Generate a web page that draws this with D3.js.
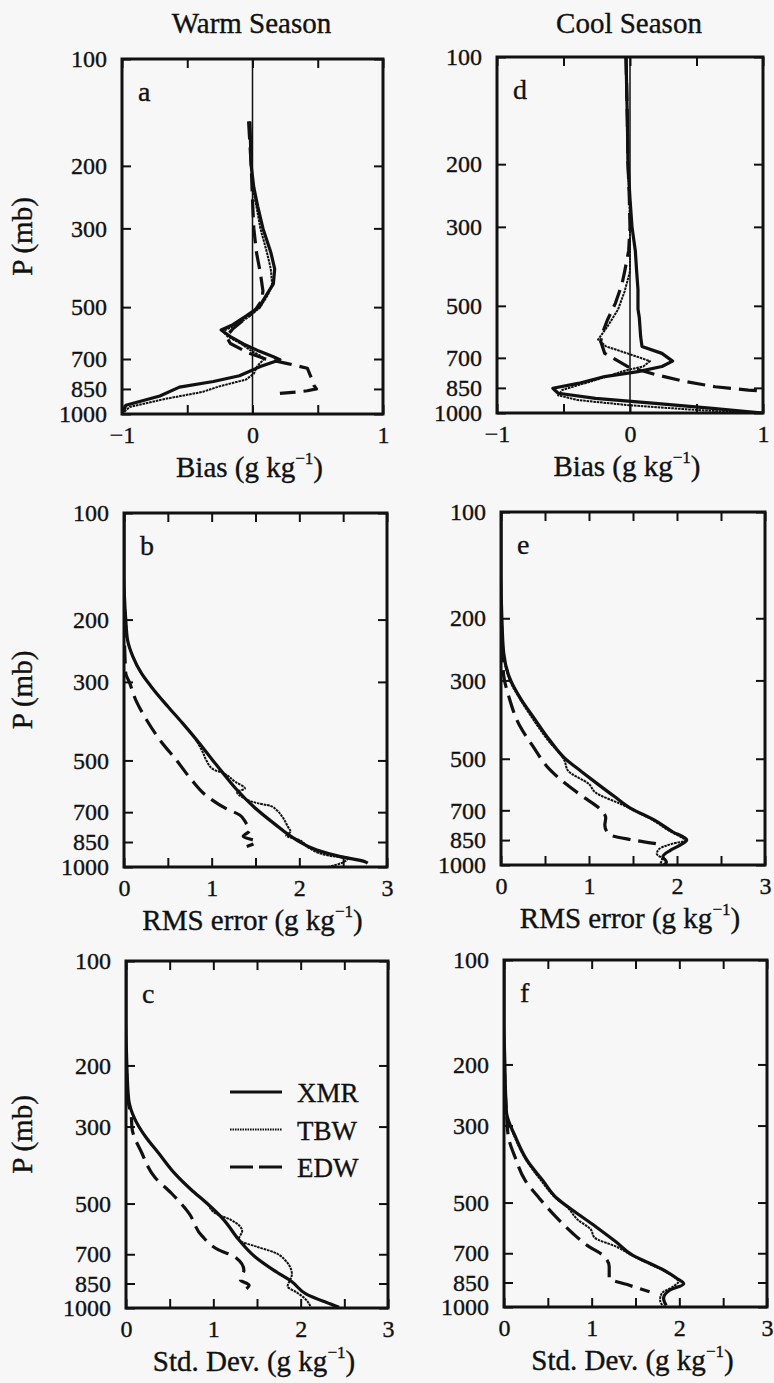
<!DOCTYPE html>
<html>
<head>
<meta charset="utf-8">
<script src="https://cdn.jsdelivr.net/npm/d3@7"></script>
<style>
  html, body { margin: 0; padding: 0; background: #f7f7f7; }
  svg { display: block; }
</style>
</head>
<body>
<svg id="chart" width="774" height="1383"></svg>
<script>
// ---- axis values ----
const pressureTicks = [100, 200, 300, 500, 700, 850, 1000];   // mb, log scale
const biasTicks = [-1, 0, 1];
const errorTicks = [0, 1, 2, 3];
const seasons = ["Warm Season", "Cool Season"];
const panelLetters = ["a", "b", "c", "d", "e", "f"];
const rowLabels = ["Bias", "RMS error", "Std. Dev."];
const seriesNames = ["XMR", "TBW", "EDW"];

// ---- profiles: [pressure (mb), value (g kg-1)] ----
// (a) warm season bias
const warmBiasXMR = [[150,-0.02],[200,-0.01],[230,0.01],[260,0.04],[300,0.08],[350,0.14],[390,0.17],[430,0.16],[460,0.11],[500,0.05],[530,-0.05],[560,-0.15],[580,-0.24],[605,-0.17],[635,-0.07],[665,0.05],[690,0.16],[703,0.21],[735,0.06],[780,-0.10],[810,-0.30],[840,-0.56],[890,-0.71],[945,-0.97],[1000,-1.0]];
const warmBiasTBW = [[150,-0.02],[200,-0.01],[230,0.0],[260,0.03],[300,0.06],[350,0.11],[390,0.14],[430,0.15],[460,0.12],[500,0.06],[530,-0.02],[560,-0.12],[585,-0.23],[605,-0.19],[630,-0.10],[660,-0.02],[685,0.06],[700,0.09],[730,0.04],[770,0.01],[800,-0.05],[835,-0.25],[866,-0.38],[910,-0.69],[955,-0.94],[1000,-1.0]];
const warmBiasEDW = [[150,-0.03],[200,-0.01],[250,0.0],[300,0.01],[350,0.03],[400,0.06],[450,0.08],[480,0.07],[510,0.02],[540,-0.06],[575,-0.15],[605,-0.2],[633,-0.17],[673,-0.03],[700,0.1],[720,0.26],[743,0.42],[790,0.45],[830,0.47],[850,0.49],[860,0.42],[866,0.36],[875,0.21]];
// (d) cool season bias
const coolBiasXMR = [[100,-0.03],[150,-0.02],[200,-0.015],[250,0.0],[300,0.015],[350,0.04],[400,0.05],[450,0.06],[510,0.06],[540,0.07],[610,0.08],[650,0.09],[680,0.24],[715,0.32],[740,0.24],[765,0.06],[790,-0.19],[826,-0.39],[852,-0.58],[880,-0.54],[910,-0.26],[940,0.19],[970,0.62],[1000,1.0]];
const coolBiasTBW = [[100,-0.03],[150,-0.02],[200,-0.015],[250,-0.005],[300,0.0],[350,0.0],[400,0.0],[455,-0.04],[512,-0.09],[572,-0.17],[622,-0.24],[650,-0.18],[680,-0.02],[715,0.15],[740,0.1],[757,-0.02],[808,-0.26],[862,-0.51],[892,-0.54],[920,-0.39],[950,-0.02],[980,0.49],[1000,0.9]];
const coolBiasEDW = [[100,-0.03],[150,-0.02],[200,-0.015],[250,-0.005],[300,0.0],[350,-0.01],[400,-0.04],[434,-0.06],[492,-0.11],[548,-0.17],[600,-0.21],[630,-0.22],[680,-0.19],[740,-0.02],[780,0.19],[815,0.41],[844,0.64],[862,0.89],[868,1.0]];
// (b) warm season RMS error
const warmRmsXMR = [[100,0.0],[150,0.0],[200,0.02],[228,0.04],[254,0.1],[284,0.2],[316,0.34],[352,0.5],[393,0.67],[438,0.83],[488,0.98],[543,1.13],[606,1.29],[676,1.48],[753,1.71],[839,1.97],[896,2.2],[935,2.47],[966,2.75],[975,2.78]];
const warmRmsTBW = [[100,0.0],[150,0.0],[200,0.02],[228,0.04],[254,0.1],[284,0.2],[316,0.34],[352,0.5],[393,0.67],[438,0.82],[475,0.9],[500,0.94],[530,1.02],[543,1.13],[575,1.27],[600,1.38],[615,1.29],[635,1.35],[660,1.52],[672,1.67],[690,1.74],[718,1.8],[770,1.87],[795,1.9],[815,1.85],[839,2.0],[880,2.1],[925,2.3],[950,2.55],[970,2.5],[1000,2.33]];
const warmRmsEDW = [[200,0.0],[250,0.01],[284,0.02],[300,0.06],[340,0.14],[385,0.26],[438,0.41],[500,0.6],[567,0.77],[632,0.95],[685,1.17],[713,1.32],[750,1.39],[790,1.43],[820,1.36],[848,1.51],[875,1.4]];
// (e) cool season RMS error
const coolRmsXMR = [[100,0.0],[150,0.0],[200,0.01],[250,0.03],[300,0.11],[340,0.23],[385,0.38],[442,0.55],[500,0.73],[545,0.92],[590,1.1],[640,1.29],[692,1.48],[745,1.74],[805,1.95],[849,2.11],[880,2.03],[910,1.92],[947,1.84],[980,1.88],[1000,1.85]];
const coolRmsTBW = [[100,0.0],[150,0.0],[200,0.01],[250,0.03],[300,0.1],[340,0.22],[385,0.36],[442,0.53],[505,0.72],[540,0.76],[590,1.0],[625,1.08],[670,1.35],[692,1.47],[745,1.72],[805,1.93],[835,2.05],[852,2.1],[870,1.95],[900,1.8],[930,1.77],[960,1.83],[1000,1.8]];
const coolRmsEDW = [[200,0.0],[260,0.02],[290,0.03],[334,0.09],[402,0.21],[460,0.36],[535,0.55],[590,0.74],[640,0.93],[692,1.12],[735,1.19],[772,1.18],[820,1.23],[849,1.5],[870,1.76]];
// (c) warm season standard deviation
const warmStdXMR = [[100,0.0],[150,0.0],[200,0.01],[250,0.03],[285,0.1],[320,0.22],[357,0.37],[410,0.56],[457,0.75],[500,0.93],[557,1.12],[635,1.29],[713,1.48],[778,1.69],[840,1.9],[910,2.06],[963,2.29],[995,2.44]];
const warmStdTBW = [[100,0.0],[150,0.0],[200,0.01],[250,0.03],[285,0.1],[320,0.22],[357,0.37],[410,0.56],[457,0.75],[500,0.93],[533,1.02],[557,1.2],[600,1.33],[635,1.29],[666,1.5],[690,1.69],[727,1.82],[800,1.9],[830,1.88],[866,1.85],[900,1.95],[940,2.05],[1000,2.12]];
const warmStdEDW = [[200,0.0],[250,0.02],[280,0.06],[305,0.07],[357,0.18],[420,0.33],[467,0.52],[533,0.72],[620,0.87],[680,1.06],[713,1.25],[778,1.35],[830,1.31],[860,1.41],[880,1.38]];
// (f) cool season standard deviation
const coolStdXMR = [[100,0.0],[150,0.0],[200,0.01],[250,0.02],[277,0.03],[323,0.13],[380,0.27],[431,0.44],[485,0.6],[530,0.8],[585,1.04],[650,1.28],[710,1.47],[740,1.62],[785,1.83],[826,1.97],[857,2.05],[895,1.89],[945,1.82],[990,1.85]];
const coolStdTBW = [[100,0.0],[150,0.0],[200,0.01],[250,0.02],[277,0.03],[323,0.12],[380,0.26],[431,0.42],[485,0.59],[515,0.72],[560,0.84],[598,0.99],[630,1.03],[670,1.28],[710,1.46],[740,1.6],[785,1.82],[815,1.93],[845,1.99],[873,1.93],[913,1.8],[954,1.78],[1000,1.82]];
const coolStdEDW = [[200,0.0],[280,0.03],[323,0.05],[372,0.13],[431,0.24],[485,0.4],[549,0.59],[612,0.78],[670,0.97],[710,1.13],[765,1.2],[826,1.2],[866,1.43],[904,1.66]];

// ---- styling ----
const FONT = "\"Liberation Serif\", \"Times New Roman\", serif";
const INK = "#111";
const seriesStyle = {
  XMR: { width: 3.2, dash: null },
  TBW: { width: 2.0, dash: "2.6,0.8" },
  EDW: { width: 3.2, dash: "18,8" }
};

const panels = [
  { letter: panelLetters[0], col: 0, row: 0, box: [122, 383, 59, 414], ticks: biasTicks,  series: [warmBiasXMR, warmBiasTBW, warmBiasEDW] },
  { letter: panelLetters[1], col: 0, row: 1, box: [124, 387, 513, 867], ticks: errorTicks, series: [warmRmsXMR, warmRmsTBW, warmRmsEDW] },
  { letter: panelLetters[2], col: 0, row: 2, box: [126, 388, 961, 1308], ticks: errorTicks, series: [warmStdXMR, warmStdTBW, warmStdEDW] },
  { letter: panelLetters[3], col: 1, row: 0, box: [497, 763, 57, 413], ticks: biasTicks,  series: [coolBiasXMR, coolBiasTBW, coolBiasEDW] },
  { letter: panelLetters[4], col: 1, row: 1, box: [501, 765, 512, 865], ticks: errorTicks, series: [coolRmsXMR, coolRmsTBW, coolRmsEDW] },
  { letter: panelLetters[5], col: 1, row: 2, box: [504, 767, 960, 1307], ticks: errorTicks, series: [coolStdXMR, coolStdTBW, coolStdEDW] }
];

const svg = d3.select("#chart");
svg.append("rect").attr("width", 774).attr("height", 1383).attr("fill", "#f7f7f7");

// serif text with a hairline outline for the heavy printed look
function label(sel, size) {
  return sel.style("font-family", FONT).style("font-size", size + "px")
    .attr("fill", INK).attr("stroke", INK).attr("stroke-width", 0.35);
}

function styleAxis(sel) {
  sel.select(".domain").remove();
  sel.selectAll(".tick line").attr("stroke", INK).attr("stroke-width", 2);
  label(sel.selectAll(".tick text"), 24);
}

function drawPanel(p, i) {
  const [left, right, top, bottom] = p.box;
  const dom = d3.extent(p.ticks);
  const x = d3.scaleLinear().domain(dom).range([left, right]);
  const y = d3.scaleLog().domain([100, 1000]).range([top, bottom]);
  const halfSteps = d3.range(dom[0], dom[1] + 1e-9, 0.5);
  const g = svg.append("g");

  // clip the profiles to the plotting frame
  const clipId = "clip" + i;
  svg.append("clipPath").attr("id", clipId)
    .append("rect").attr("x", left).attr("y", top)
    .attr("width", right - left).attr("height", bottom - top);

  // axes, ticks pointing inward on all four sides
  g.append("g").attr("transform", `translate(${left},0)`)
    .call(d3.axisLeft(y).tickValues(pressureTicks).tickFormat(d3.format("d"))
      .tickSizeInner(-9).tickSizeOuter(0).tickPadding(15))
    .call(styleAxis);
  g.append("g").attr("transform", `translate(${right},0)`)
    .call(d3.axisRight(y).tickValues(pressureTicks).tickFormat("")
      .tickSizeInner(-9).tickSizeOuter(0))
    .call(styleAxis);
  g.append("g").attr("transform", `translate(0,${bottom})`)
    .call(d3.axisBottom(x).tickValues(halfSteps)
      .tickFormat(d => Number.isInteger(d) ? d3.format("d")(d) : "")
      .tickSizeInner(-9).tickSizeOuter(0).tickPadding(12))
    .call(styleAxis);
  g.append("g").attr("transform", `translate(0,${top})`)
    .call(d3.axisTop(x).tickValues(halfSteps).tickFormat("")
      .tickSizeInner(-9).tickSizeOuter(0))
    .call(styleAxis);

  // zero reference line on bias panels
  if (dom[0] < 0) {
    g.append("line")
      .attr("x1", x(0)).attr("x2", x(0)).attr("y1", top).attr("y2", bottom)
      .attr("stroke", INK).attr("stroke-width", 1.5);
  }

  // profiles: bias profiles keep sharp corners, error profiles are smooth
  const line = d3.line().x(d => x(d[1])).y(d => y(d[0]))
    .curve(p.row === 0 ? d3.curveLinear : d3.curveMonotoneY);
  const lines = g.append("g").attr("clip-path", `url(#${clipId})`);
  p.series.forEach((data, k) => {
    const st = seriesStyle[seriesNames[k]];
    lines.append("path").datum(data)
      .attr("d", line)
      .attr("fill", "none")
      .attr("stroke", INK)
      .attr("stroke-width", st.width)
      .attr("stroke-linejoin", "round")
      .attr("stroke-dasharray", st.dash);
  });

  // frame
  g.append("rect")
    .attr("x", left).attr("y", top)
    .attr("width", right - left).attr("height", bottom - top)
    .attr("fill", "none").attr("stroke", INK).attr("stroke-width", 3);

  // panel letter
  label(g.append("text").attr("x", left + 16).attr("y", top + 42), 28)
    .text(p.letter);

  // x-axis title with superscript unit
  const xt = label(g.append("text")
    .attr("x", (left + right) / 2 - 3).attr("y", bottom + 63)
    .attr("text-anchor", "middle"), 29);
  xt.append("tspan").text(rowLabels[p.row] + " (g kg");
  xt.append("tspan").style("font-size", "17px").attr("dy", -13).text("\u22121");
  xt.append("tspan").attr("dy", 13).text(")");

  // y-axis title on the left column only
  if (p.col === 0) {
    label(g.append("text")
      .attr("transform", `translate(32,${(top + bottom) / 2}) rotate(-90)`)
      .attr("text-anchor", "middle"), 29)
      .text("P (mb)");
  }

  // column heading
  if (p.row === 0) {
    label(svg.append("text")
      .attr("x", (left + right) / 2 - 1).attr("y", 33)
      .attr("text-anchor", "middle"), 29)
      .text(seasons[p.col]);
  }

  // legend inside panel c
  if (p.col === 0 && p.row === 2) {
    const lg = g.append("g");
    seriesNames.forEach((name, k) => {
      const st = seriesStyle[name];
      const ly = top + 131 + k * 37.5;
      lg.append("line")
        .attr("x1", left + 104).attr("x2", left + 156)
        .attr("y1", ly).attr("y2", ly)
        .attr("stroke", INK).attr("stroke-width", st.width)
        .attr("stroke-dasharray", name === "EDW" ? "23,6" : (name === "TBW" ? "1.6,0.9" : st.dash));
      label(lg.append("text").attr("x", left + 171).attr("y", ly + 10), 27)
        .text(name);
    });
  }
}

panels.forEach(drawPanel);
</script>
</body>
</html>
